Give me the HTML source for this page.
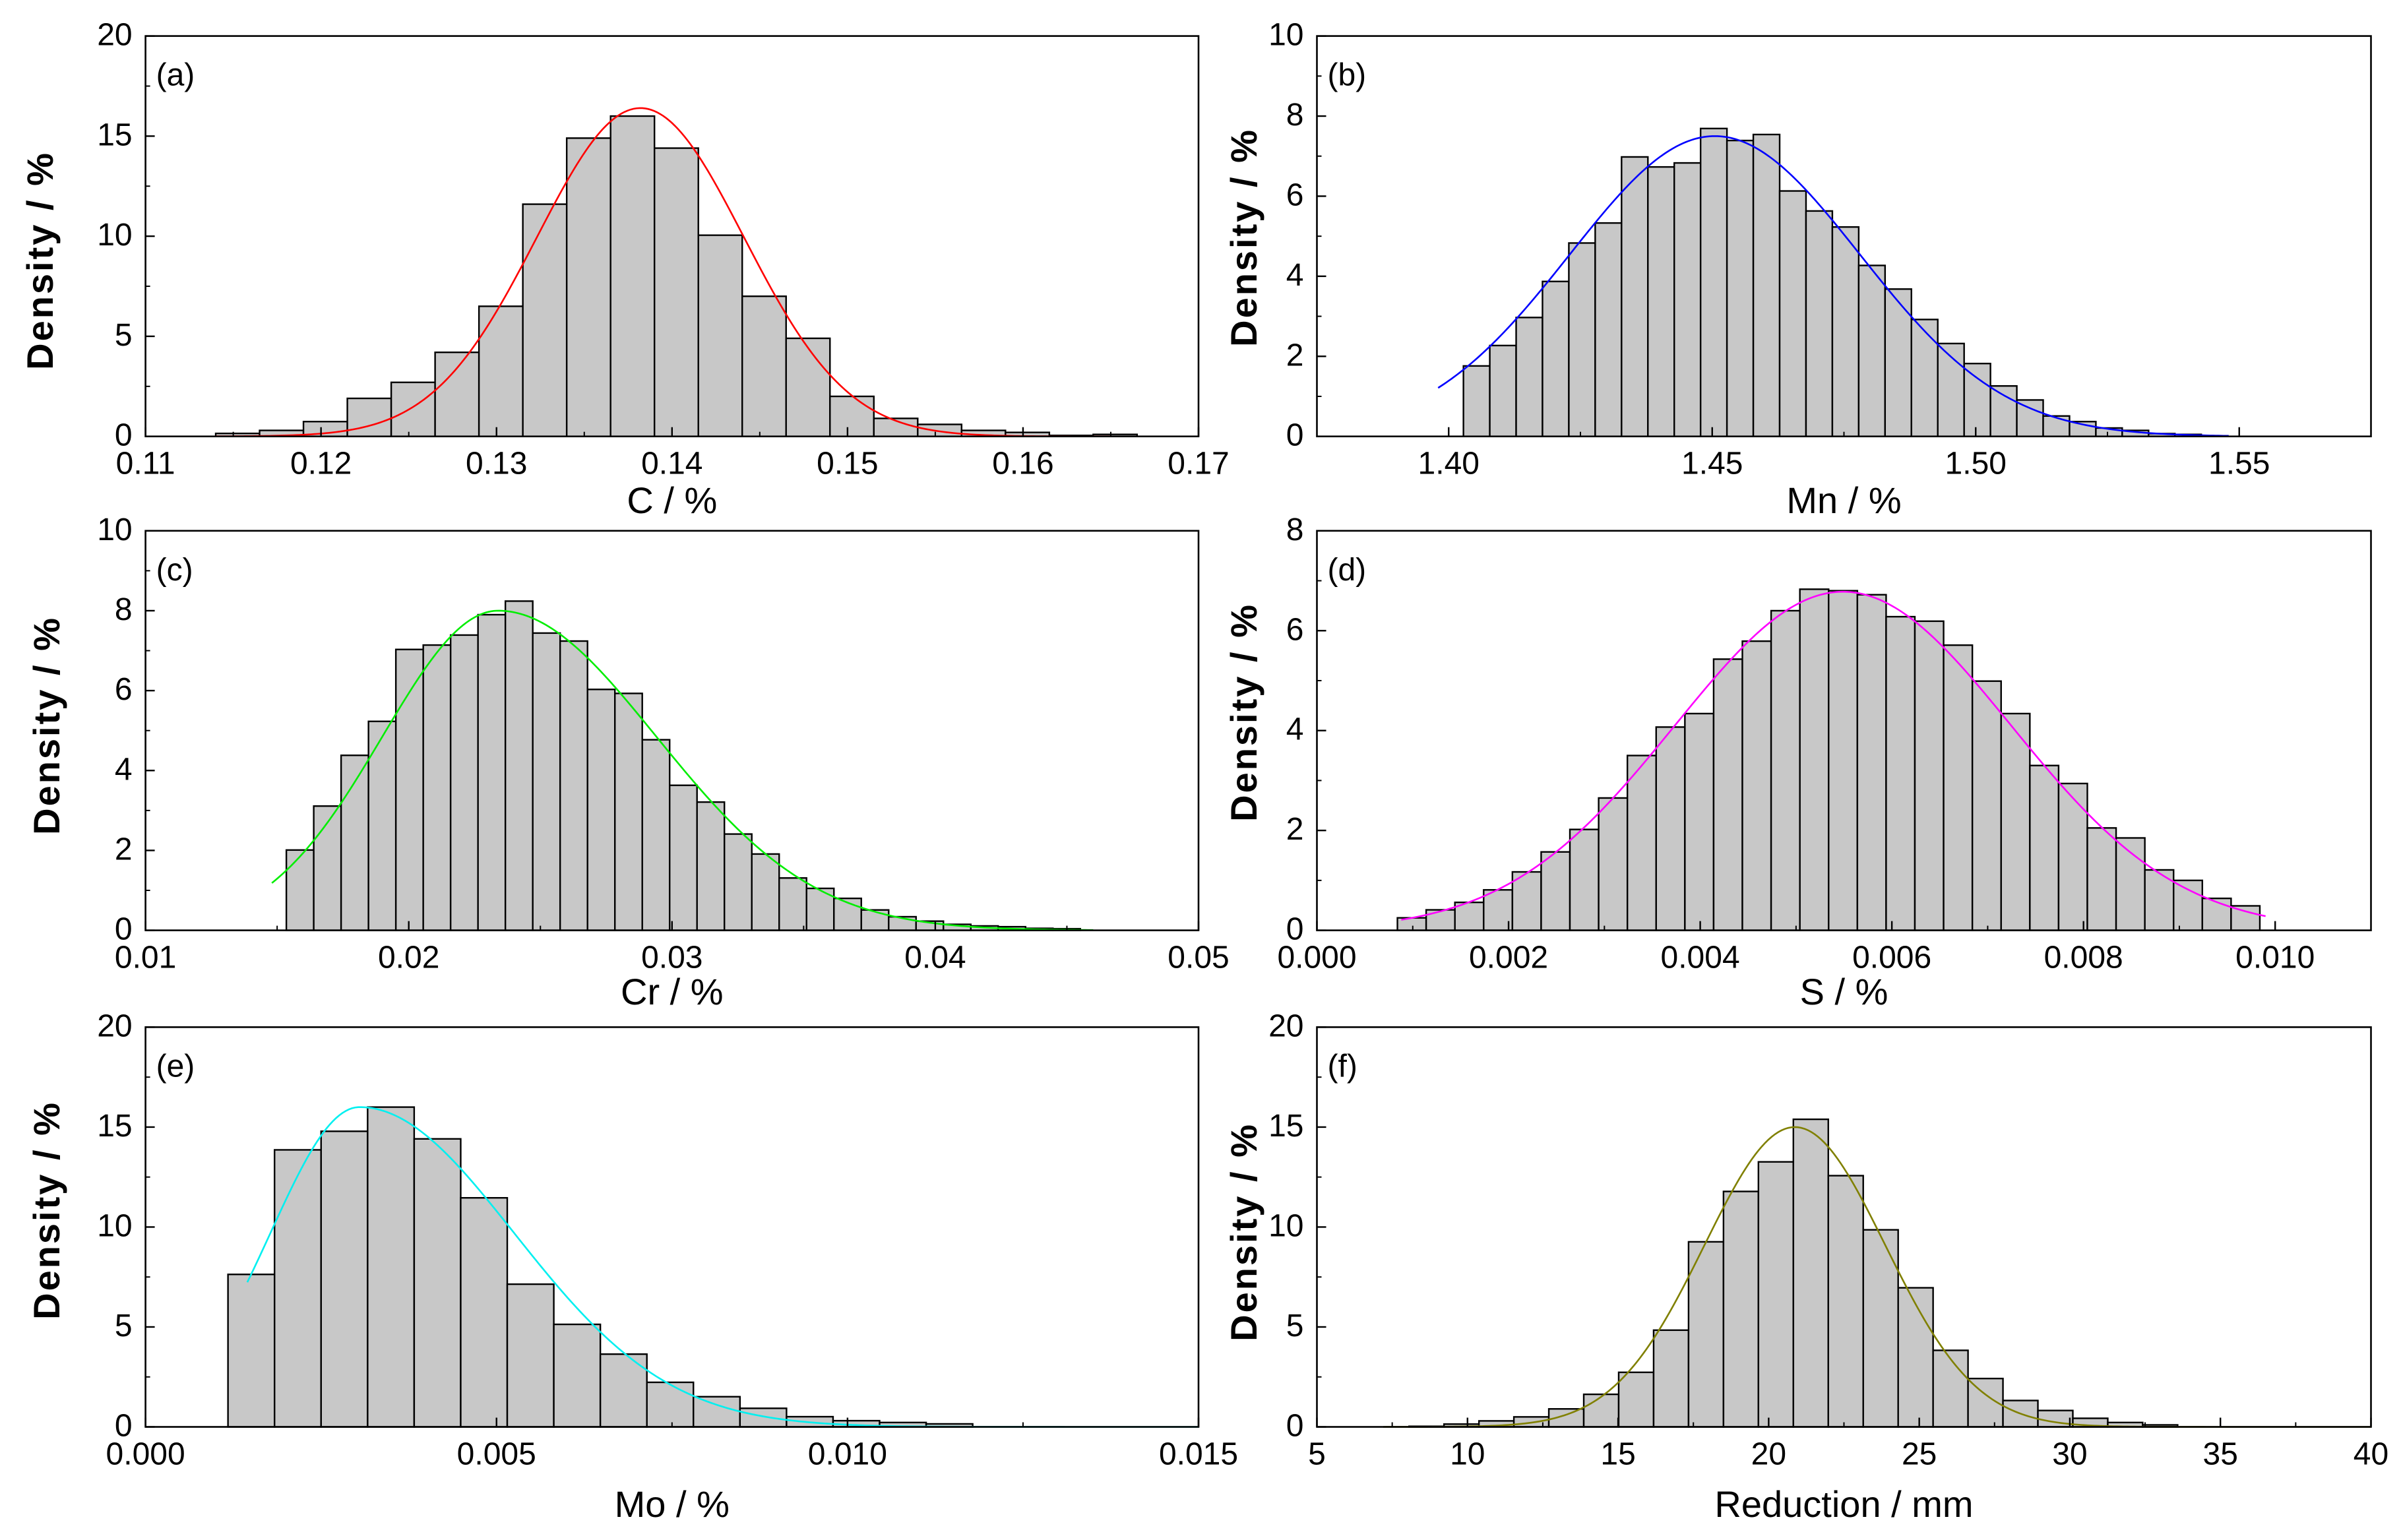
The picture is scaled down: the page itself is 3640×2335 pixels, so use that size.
<!DOCTYPE html>
<html><head><meta charset="utf-8"><title>Density histograms</title>
<style>
html,body{margin:0;padding:0;background:#fff;}
svg{display:block;}
text{font-family:"Liberation Sans",Arial,sans-serif;fill:#000;}
</style></head>
<body>
<svg id="fig" xmlns="http://www.w3.org/2000/svg" width="3640" height="2335" viewBox="0 0 3640 2335">
<rect x="0" y="0" width="3640" height="2335" fill="#fff"/>
</svg>
<script>
// ---- Panel (a) C ----
const aBinStart = 0.114, aBinWidth = 0.0025;
const aHeights = [0.15,0.3,0.74,1.9,2.7,4.2,6.5,11.6,14.9,16.0,14.4,10.05,7.0,4.9,2.0,0.9,0.6,0.3,0.2,0.05,0.1];
const aFit = [16.4, 0.1382, 0.0059, 0.0059]; // peak, mode, left sd, right sd
const aFitRange = [0.114, 0.165];
const aXTicks = ["0.11","0.12","0.13","0.14","0.15","0.16","0.17"];
const aYTicks = ["0","5","10","15","20"];
// ---- Panel (b) Mn ----
const bBinStart = 1.4028, bBinWidth = 0.005;
const bHeights = [1.76,2.27,2.97,3.87,4.83,5.33,6.98,6.73,6.83,7.69,7.39,7.54,6.13,5.63,5.23,4.27,3.68,2.92,2.32,1.82,1.26,0.91,0.51,0.37,0.21,0.15,0.07,0.05];
const bFit = [7.5, 1.4505, 0.0275, 0.0275];
const bFitRange = [1.398, 1.548];
const bXTicks = ["1.40","1.45","1.50","1.55"];
const bYTicks = ["0","2","4","6","8","10"];
// ---- Panel (c) Cr ----
const cBinStart = 0.01535, cBinWidth = 0.00104;
const cHeights = [2.01,3.11,4.38,5.23,7.03,7.14,7.39,7.9,8.24,7.44,7.24,6.03,5.93,4.77,3.63,3.21,2.41,1.91,1.31,1.05,0.80,0.51,0.34,0.23,0.15,0.11,0.09,0.05,0.04];
const cFit = [8.0, 0.0234, 0.0044, 0.006];
const cFitRange = [0.0148, 0.046];
const cXTicks = ["0.01","0.02","0.03","0.04","0.05"];
const cYTicks = ["0","2","4","6","8","10"];
// ---- Panel (d) S ----
const dBinStart = 0.00084, dBinWidth = 0.0003;
const dHeights = [0.25,0.41,0.56,0.81,1.17,1.57,2.02,2.65,3.5,4.07,4.34,5.43,5.79,6.4,6.83,6.8,6.72,6.28,6.19,5.71,4.99,4.34,3.3,2.94,2.05,1.85,1.21,1.0,0.64,0.49];
const dFit = [6.78, 0.00549, 0.00175, 0.00175];
const dFitRange = [0.00088, 0.0099];
const dXTicks = ["0.000","0.002","0.004","0.006","0.008","0.010"];
const dYTicks = ["0","2","4","6","8"];
// ---- Panel (e) Mo ----
const eBinStart = 0.001175, eBinWidth = 0.000663;
const eHeights = [7.63,13.86,14.79,16.0,14.41,11.46,7.14,5.13,3.64,2.23,1.51,0.93,0.51,0.31,0.22,0.15];
const eFit = [16.0, 0.00305, 0.00127, 0.0022];
const eFitRange = [0.00145, 0.015];
const eXTicks = ["0.000","0.005","0.010","0.015"];
const eYTicks = ["0","5","10","15","20"];
// ---- Panel (f) Reduction ----
const fBinStart = 8.06, fBinWidth = 1.16;
const fHeights = [0.03,0.14,0.3,0.5,0.9,1.63,2.73,4.84,9.26,11.78,13.26,15.39,12.57,9.86,6.96,3.83,2.42,1.32,0.82,0.43,0.22,0.1];
const fFit = [15.0, 20.87, 3.0, 3.0];
const fFitRange = [7.2, 40];
const fXTicks = ["5","10","15","20","25","30","35","40"];
const fYTicks = ["0","5","10","15","20"];

const NS = "http://www.w3.org/2000/svg";
const svg = document.getElementById("fig");
function mk(tag, attrs, parent){
  const e = document.createElementNS(NS, tag);
  for (const k in attrs) e.setAttribute(k, attrs[k]);
  (parent||svg).appendChild(e);
  return e;
}
function splitGauss(p, x){ const s = x < p[1] ? p[2] : p[3]; return p[0]*Math.exp(-Math.pow(x-p[1],2)/(2*s*s)); }

function panel(cfg){
  const g = mk("g", {});
  
  
  const L=cfg.box[0], R=cfg.box[1], T=cfg.box[2], B=cfg.box[3];
  const X = v => L + (v-cfg.xmin)/(cfg.xmax-cfg.xmin)*(R-L);
  const Y = v => B - v/cfg.ymax*(B-T);
  const bars = mk("g", {}, g);
  
  
  cfg.heights.forEach(function(h,i){
    const x0 = X(cfg.binStart + i*cfg.binWidth), x1 = X(cfg.binStart + (i+1)*cfg.binWidth);
    const r = mk("rect", {x:x0, y:Y(h), width:x1-x0, height:B-Y(h), fill:"#c8c8c8", stroke:"#000", "stroke-width":2.4}, bars);
    
    
  });
  let d="";
  const n=300;
  for(let k=0;k<=n;k++){
    const xv = cfg.fitRange[0] + (cfg.fitRange[1]-cfg.fitRange[0])*k/n;
    const yv = splitGauss(cfg.fit, xv);
    d += (k?"L":"M") + X(xv).toFixed(2) + "," + Y(yv).toFixed(2);
  }
  const c = mk("path", {d:d, fill:"none", stroke:cfg.color, "stroke-width":2.6}, g);
  
  
  const f = mk("rect", {x:L, y:T, width:R-L, height:B-T, fill:"none", stroke:"#000", "stroke-width":2.6}, g);
  
  
  const xn = cfg.xTicks.length;
  cfg.xTicks.forEach(function(lab,i){
    const v = parseFloat(lab), px = X(v);
    mk("line", {x1:px, y1:B, x2:px, y2:B-14, stroke:"#000", "stroke-width":2.4}, g);
    if (i < xn-1) { const m = X(v + cfg.xStep/2); if (m < R) mk("line", {x1:m, y1:B, x2:m, y2:B-7, stroke:"#000", "stroke-width":2}, g); }
    const t = mk("text", {x:px, y:B+57, "font-size":48, "text-anchor":"middle"}, g);
    t.textContent = lab;
    
    
  });
  if (cfg.xMinorBefore) { const m = X(parseFloat(cfg.xTicks[0]) - cfg.xStep/2); if (m > L) mk("line", {x1:m, y1:B, x2:m, y2:B-7, stroke:"#000", "stroke-width":2}, g); }
  cfg.yTicks.forEach(function(lab,i){
    const v = parseFloat(lab), py = Y(v);
    mk("line", {x1:L, y1:py, x2:L+14, y2:py, stroke:"#000", "stroke-width":2.4}, g);
    if (i < cfg.yTicks.length-1) { const m = Y(v + cfg.yStep/2); mk("line", {x1:L, y1:m, x2:L+7, y2:m, stroke:"#000", "stroke-width":2}, g); }
    const t = mk("text", {x:L-20, y:py+14, "font-size":48, "text-anchor":"end"}, g);
    t.textContent = lab;
    
    
  });
  const xt = mk("text", {x:(L+R)/2, y:cfg.xTitleY, "font-size":56, "text-anchor":"middle"}, g);
  xt.textContent = cfg.xTitle;
  
  
  const yt = mk("text", {x:0, y:0, "font-size":56, "font-weight":"bold", "text-anchor":"middle", "letter-spacing":3, transform:"translate("+cfg.yTitleX+","+cfg.yTitleY+") rotate(-90)"}, g);
  yt.textContent = "Density / %";
  
  
  const pl = mk("text", {x:L+16, y:T+75, "font-size":48}, g);
  pl.textContent = "(" + cfg.id + ")";
  
  
}

const LX=[220.6,1817], RX=[1996.5,3594.5];
panel({id:"a", box:[LX[0],LX[1],54.6,661.7], xmin:0.11, xmax:0.17, ymax:20, binStart:aBinStart, binWidth:aBinWidth, heights:aHeights, fit:aFit, fitRange:aFitRange, color:"#ff0000", xTicks:aXTicks, xStep:0.01, yTicks:aYTicks, yStep:5, xTitle:"C / %", xTitleY:778, yTitleX:80, yTitleY:395});
panel({id:"b", box:[RX[0],RX[1],54.6,661.7], xmin:1.375, xmax:1.575, ymax:10, binStart:bBinStart, binWidth:bBinWidth, heights:bHeights, fit:bFit, fitRange:bFitRange, color:"#0000ff", xTicks:bXTicks, xStep:0.05, xMinorBefore:true, yTicks:bYTicks, yStep:2, xTitle:"Mn / %", xTitleY:778, yTitleX:1905, yTitleY:360});
panel({id:"c", box:[LX[0],LX[1],804.8,1410.6], xmin:0.01, xmax:0.05, ymax:10, binStart:cBinStart, binWidth:cBinWidth, heights:cHeights, fit:cFit, fitRange:cFitRange, color:"#00ee00", xTicks:cXTicks, xStep:0.01, yTicks:cYTicks, yStep:2, xTitle:"Cr / %", xTitleY:1523, yTitleX:90, yTitleY:1100});
panel({id:"d", box:[RX[0],RX[1],804.8,1410.6], xmin:0, xmax:0.011, ymax:8, binStart:dBinStart, binWidth:dBinWidth, heights:dHeights, fit:dFit, fitRange:dFitRange, color:"#ff00ff", xTicks:dXTicks, xStep:0.002, yTicks:dYTicks, yStep:2, xTitle:"S / %", xTitleY:1523, yTitleX:1905, yTitleY:1080});
panel({id:"e", box:[LX[0],LX[1],1557.4,2163.5], xmin:0, xmax:0.015, ymax:20, binStart:eBinStart, binWidth:eBinWidth, heights:eHeights, fit:eFit, fitRange:eFitRange, color:"#00f0f0", xTicks:eXTicks, xStep:0.005, yTicks:eYTicks, yStep:5, xTitle:"Mo / %", xTitleY:2300, yTitleX:90, yTitleY:1835});
panel({id:"f", box:[RX[0],RX[1],1557.4,2163.5], xmin:5, xmax:40, ymax:20, binStart:fBinStart, binWidth:fBinWidth, heights:fHeights, fit:fFit, fitRange:fFitRange, color:"#808000", xTicks:fXTicks, xStep:5, yTicks:fYTicks, yStep:5, xTitle:"Reduction / mm", xTitleY:2300, yTitleX:1905, yTitleY:1868});
</script>
</body></html>
